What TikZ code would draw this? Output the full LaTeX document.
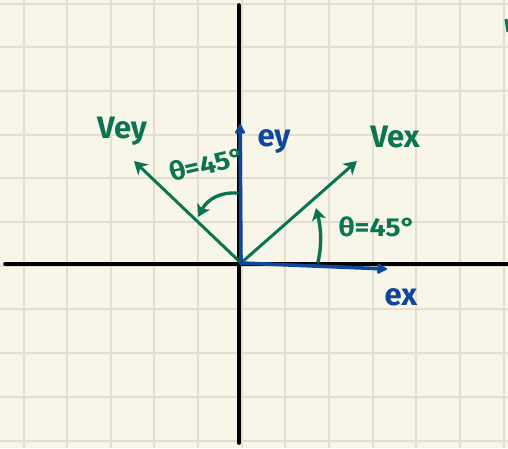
\documentclass[tikz,border=0pt]{standalone}
\usepackage{fontspec}
\setmainfont{Fira Sans}
\usetikzlibrary{arrows.meta}
\definecolor{paper}{HTML}{F8F5E9}
\definecolor{gridc}{HTML}{E2DFD1}
\definecolor{pgreen}{HTML}{0B7552}
\definecolor{pblue}{HTML}{11479A}
\tikzset{
  axis/.style={line width=3.6pt, black, line cap=round},
  gvec/.style={line width=3pt, pgreen, -{Stealth[length=13pt,width=15pt,inset=4pt]}},
  bvec/.style={line width=3.6pt, pblue, line cap=round, -{Latex[length=12pt,width=13pt,round]}},
  garc/.style={line width=3.4pt, pgreen, line cap=round, -{Stealth[length=12pt,width=14pt,inset=3pt]}},
  glab/.style={text=pgreen, font=\fontsize{31}{34}\selectfont\bfseries, inner sep=0pt},
  blab/.style={text=pblue, font=\fontsize{31}{34}\selectfont\bfseries, inner sep=0pt},
  anglab/.style={text=pgreen, font=\fontsize{26}{28}\selectfont\bfseries, inner sep=0pt, xscale=1.1, transform shape}
}
\begin{document}
\begin{tikzpicture}[x=1pt,y=-1pt]
\useasboundingbox (0,0) rectangle (508,448);
\fill[paper] (0,0) rectangle (508,448);
% grid
\foreach \i in {0,...,11} {
  \draw[gridc, line width=2pt] ({23.5+43.65*\i},0) -- ({23.5+43.65*\i},448);
}
\foreach \j in {0,...,10} {
  \draw[gridc, line width=2pt] (0,{3.5+43.7*\j}) -- (508,{3.5+43.7*\j});
}
% axes
\coordinate (xl) at (5,264);
\coordinate (xr) at (508,264);
\coordinate (yt) at (239,5);
\coordinate (yb) at (239,443);
\draw[axis] (xl) -- (xr);
\draw[axis] (yt) -- (yb);
% origin and vector ends
\coordinate (O) at (241,263);
\coordinate (Ex) at (387,269);
\coordinate (Ey) at (240,124);
\coordinate (Vx) at (357,161);
\coordinate (Vy) at (134,161);
\draw[gvec] (O) -- (Vx);
\draw[gvec] (O) -- (Vy);
\draw[bvec] (O) -- (Ex);
\draw[bvec] (O) -- (Ey);
% angle arcs
\coordinate (a1) at (318,262);
\coordinate (a2) at (316,208);
\draw[garc] (a1) .. controls (322,245) and (321,228) .. (a2);
\coordinate (b1) at (237,193);
\coordinate (b2) at (198,217);
\draw[garc] (b1) .. controls (222,192) and (208,198) .. (b2);
% labels
\node[glab] (lvey) at (122,131) {Vey};
\node[glab] (lvex) at (395,137) {Vex};
\node[blab] (ley) at (274,141) {ey};
\node[blab] (lex) at (401,297) {ex};
\node[anglab, rotate=14] (th1) at (207,164) {θ=45°};
\node[anglab] (th2) at (377,227) {θ=45°};
% stray mark at top right
\coordinate (s1) at (506,19);
\coordinate (s2) at (508,32);
\draw[pgreen, line width=3pt] (s1) -- (s2);
\end{tikzpicture}
\end{document}
